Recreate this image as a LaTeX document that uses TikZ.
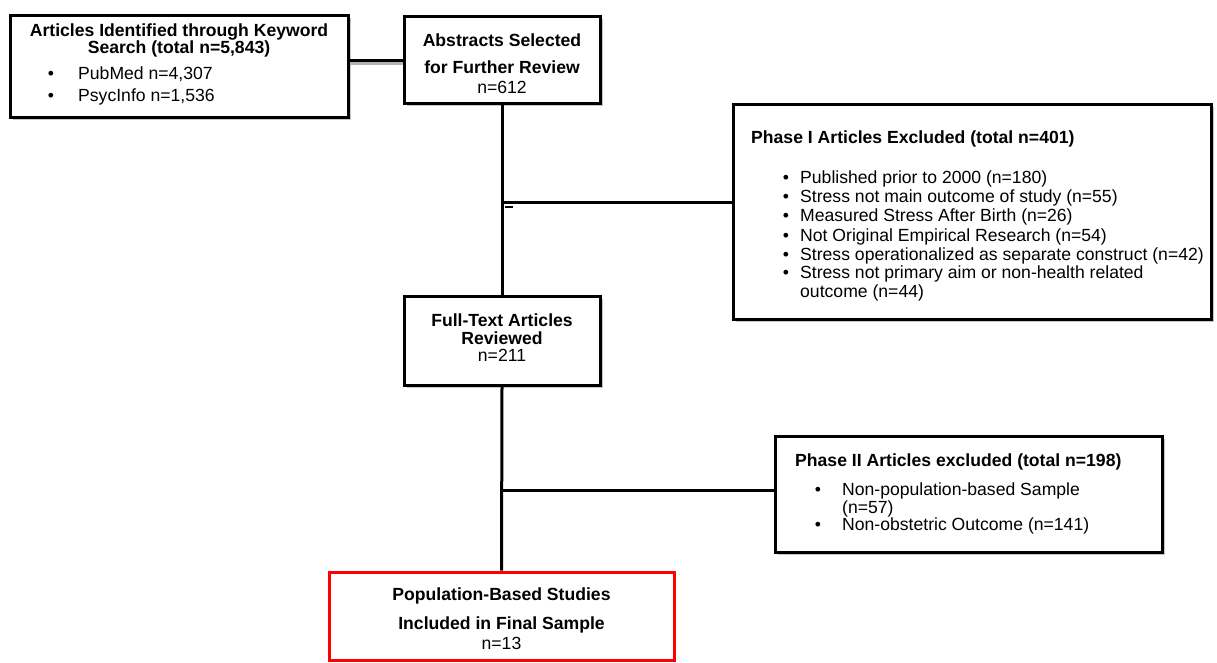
\documentclass[tikz,border=0pt]{standalone}
\usepackage{fontspec}
\setmainfont{Liberation Sans}
\usetikzlibrary{shadows}
\begin{document}
\begin{tikzpicture}[x=1pt,y=-1pt,
  box/.style={draw=black, line width=3pt, fill=white, inner sep=0pt,
    drop shadow={shadow xshift=2.5pt, shadow yshift=-2.5pt, fill=gray!45, opacity=1}},
  redbox/.style={draw=red, line width=3pt, fill=white, inner sep=0pt},
  conn/.style={line width=3pt},
  txt/.style={inner sep=0pt, font=\fontsize{17.6}{20}\selectfont},
  btxt/.style={inner sep=0pt, font=\fontsize{17.6}{20}\selectfont\bfseries},
]
\useasboundingbox (0,0) rectangle (1217,663);
% boxes
\node[box, minimum width=338pt, minimum height=102pt] (b1) at (179,67) {};
\node[box, minimum width=196pt, minimum height=87pt] (b2) at (502,60.5) {};
\node[box, minimum width=478pt, minimum height=214pt] (b3) at (972,212) {};
\node[box, minimum width=196pt, minimum height=89pt] (b4) at (502,340.5) {};
\node[box, minimum width=387pt, minimum height=116pt] (b5) at (968.5,494) {};
\node[redbox, minimum width=345pt, minimum height=88pt] (b6) at (501.5,616) {};
% connectors
\coordinate (j1) at (b2.south |- 0,202);
\coordinate (j2) at (b4.south |- 0,490);
\coordinate (t1) at (505,207);
\coordinate (t2) at (513,207);
\draw[conn, gray!60] ([yshift=-2pt]b1.east |- 0,62) -- ([yshift=-2pt]b2.west |- 0,62);
\draw[conn] (b1.east |- 0,61) -- (b2.west |- 0,61);
\draw[conn] (b2.south) -- (b4.north);
\draw[conn] (j1) -- (b3.west |- j1);
\draw[conn, line width=2.5pt] (t1) -- (t2);
\draw[conn] (b4.south) -- (b6.north);
\draw[conn] (j2) -- (b5.west |- j2);
% box 1 text
\node[btxt, anchor=base] (t1a) at (179,37) {Articles Identified through Keyword};
\node[btxt, anchor=base] (t1b) at (179,54) {Search (total n=5,843)};
\node[txt, anchor=base] (t1c) at (51,80) {•};
\node[txt, anchor=base west] (t1d) at (78,80) {PubMed n=4,307};
\node[txt, anchor=base] (t1e) at (51,102) {•};
\node[txt, anchor=base west] (t1f) at (78,102) {PsycInfo n=1,536};
% box 2 text
\node[btxt, anchor=base] (t2a) at (502,47) {Abstracts Selected};
\node[btxt, anchor=base] (t2b) at (502,74) {for Further Review};
\node[txt, anchor=base] (t2c) at (502,94) {n=612};
% box 3 text
\node[btxt, anchor=base west] (t3a) at (751,144) {Phase I Articles Excluded (total n=401)};
\foreach \yy/\tt [count=\i] in {184/Published prior to 2000 (n=180),
  203/Stress not main outcome of study (n=55),
  222/Measured Stress After Birth (n=26),
  241/Not Original Empirical Research (n=54),
  260/Stress operationalized as separate construct (n=42),
  278/Stress not primary aim or non-health related}{
  \node[txt, anchor=base] (b3d\i) at (786,\yy) {•};
  \node[txt, anchor=base west] (b3t\i) at (800,\yy) {\tt};
}
\node[txt, anchor=base west] (b3t7) at (800,297) {outcome (n=44)};
% box 4 text
\node[btxt, anchor=base] (t4a) at (502,326) {Full-Text Articles};
\node[btxt, anchor=base] (t4b) at (502,344) {Reviewed};
\node[txt, anchor=base] (t4c) at (502,361) {n=211};
% box 5 text
\node[btxt, anchor=base west] (t5a) at (795,466) {Phase II Articles excluded (total n=198)};
\node[txt, anchor=base] (t5b) at (818,495) {•};
\node[txt, anchor=base west] (t5c) at (842,495) {Non-population-based Sample};
\node[txt, anchor=base west] (t5d) at (842,513) {(n=57)};
\node[txt, anchor=base] (t5e) at (818,530) {•};
\node[txt, anchor=base west] (t5f) at (842,530) {Non-obstetric Outcome (n=141)};
% box 6 text
\node[btxt, anchor=base] (t6a) at (501.5,600) {Population-Based Studies};
\node[btxt, anchor=base] (t6b) at (501.5,629) {Included in Final Sample};
\node[txt, anchor=base] (t6c) at (501.5,649) {n=13};
\end{tikzpicture}
\end{document}
